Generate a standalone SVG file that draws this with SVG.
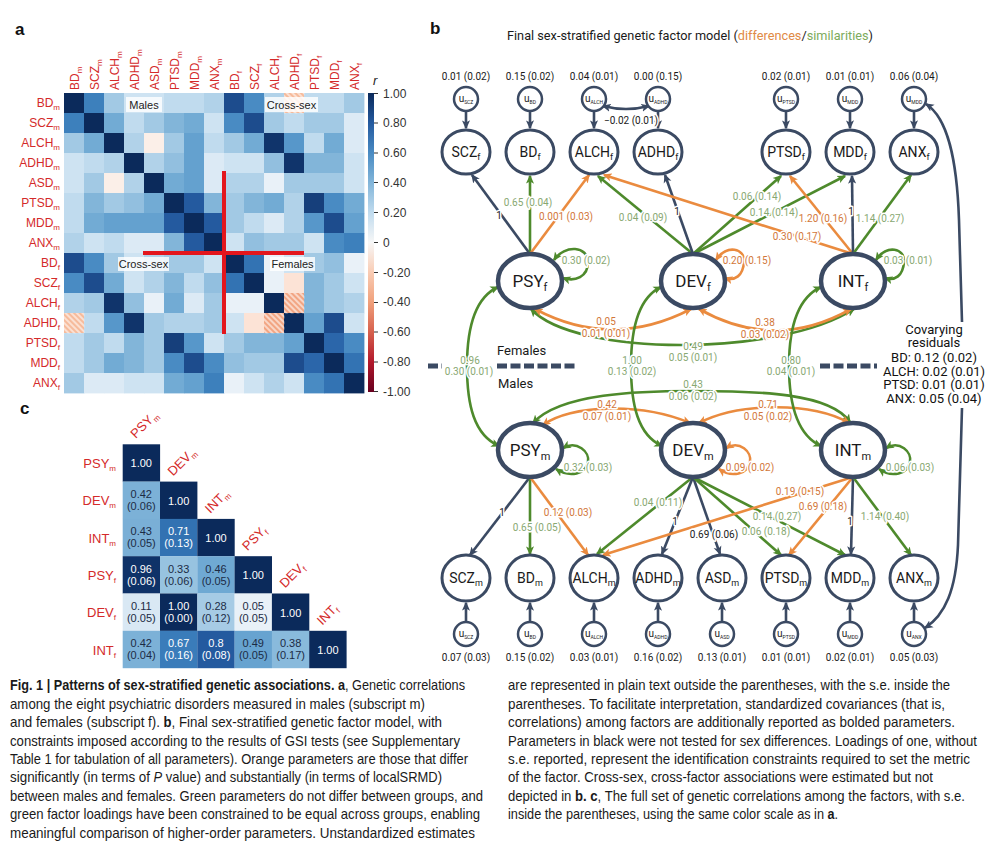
<svg xmlns="http://www.w3.org/2000/svg" width="1000" height="850" viewBox="0 0 1000 850">
<defs>
<style>
.sa{font-family:"Liberation Sans",Arial,sans-serif}
.ro{font-family:Roboto,"Liberation Sans",Arial,sans-serif}
.hm rect{width:20.4px;height:20.4px}
.p100{fill:#0b2a5b}.p95{fill:#10346b}.p90{fill:#163f7b}.p85{fill:#1d4c8d}.p80{fill:#245a9f}.p75{fill:#2b66aa}.p70{fill:#3373b3}.p65{fill:#3d80bc}.p60{fill:#498bc3}.p55{fill:#5797ca}.p50{fill:#64a1cf}.p45{fill:#72abd4}.p40{fill:#82b5d9}.p35{fill:#92bfdf}.p30{fill:#a2c9e4}.p25{fill:#b1d2e9}.p20{fill:#c0dbee}.p15{fill:#cee3f2}.p10{fill:#dceaf5}.p05{fill:#e9f1f8}.n05{fill:#fbefe8}.n10{fill:#fce3d6}.n30{fill:#f6bb9c}.n40{fill:#f2a583}
.lab{fill:#d42a2a;font-size:12px}
.s8{font-size:8px}
.box{fill:#fff;fill-opacity:.82}
.bt{font-size:11px;fill:#222;text-anchor:middle}
.cb{font-size:12px;fill:#333}
.tick{stroke:#333;stroke-width:1}
.ind{fill:#fff;stroke:#3b4a63;stroke-width:3}
.fac{fill:#fff;stroke:#3b4a63;stroke-width:4.5}
.uc{fill:#fff;stroke:#3b4a63;stroke-width:2.5}
.nl{font-size:14px;fill:#1a1a1a;text-anchor:middle}
.fl{font-size:17px;fill:#1a1a1a;text-anchor:middle}
.s9{font-size:9px}
.s11{font-size:11px}
.ul{font-size:10px;fill:#1a1a1a;text-anchor:middle}
.s5{font-size:5px}
.v{font-size:10px;fill:#1a1a1a;text-anchor:middle}
.el{font-size:10px;text-anchor:middle;paint-order:stroke;stroke:#fff;stroke-width:3px;stroke-linejoin:round}
.g{fill:#88a872}.o{fill:#d2773a}.k{fill:#1a1a1a}
.ed,.eg,.eo{fill:none;stroke-width:2.6}
.ed{stroke:#3b4a63}.eg{stroke:#4e8a2c}.eo{stroke:#ea8b3f}
.dash{stroke:#3b4a63;stroke-width:5;stroke-dasharray:10 3.5}
.cr{font-size:13px;fill:#111;text-anchor:middle}
.cl{fill:#d42a2a;font-size:13px}
.ct{font-size:11px;fill:#1c2b45;text-anchor:middle}
.cw{fill:#fff}
.cap{font-family:"Liberation Sans Narrow","Liberation Sans",Arial,sans-serif;font-size:15px;fill:#1a1a1a}
.pl{font-family:"Liberation Sans",Arial,sans-serif;font-weight:bold;font-size:17px;fill:#111}
.b{font-weight:bold}
</style>
<pattern id="hatch" patternUnits="userSpaceOnUse" width="4" height="4" patternTransform="rotate(-45)"><line x1="1" y1="0" x2="1" y2="4" stroke="#fff" stroke-width="1.1"/></pattern>
<linearGradient id="cbg" x1="0" y1="0" x2="0" y2="1">
<stop offset="0" stop-color="#0b2a5b"/><stop offset=".1" stop-color="#245a9f"/><stop offset=".2" stop-color="#498bc3"/><stop offset=".3" stop-color="#82b5d9"/><stop offset=".4" stop-color="#c0dbee"/><stop offset=".5" stop-color="#f7f7f7"/><stop offset=".6" stop-color="#f9ccb4"/><stop offset=".7" stop-color="#f0a07b"/><stop offset=".8" stop-color="#d6604d"/><stop offset=".9" stop-color="#b2182b"/><stop offset="1" stop-color="#67001f"/>
</linearGradient>
<marker id="md" viewBox="0 0 10 10" refX="8.5" refY="5" markerWidth="9" markerHeight="9" markerUnits="userSpaceOnUse" orient="auto-start-reverse"><path d="M0,0.5L10,5L0,9.5L2.5,5z" fill="#3b4a63"/></marker>
<marker id="mg" viewBox="0 0 10 10" refX="8.5" refY="5" markerWidth="9" markerHeight="9" markerUnits="userSpaceOnUse" orient="auto-start-reverse"><path d="M0,0.5L10,5L0,9.5L2.5,5z" fill="#4e8a2c"/></marker>
<marker id="mo" viewBox="0 0 10 10" refX="8.5" refY="5" markerWidth="9" markerHeight="9" markerUnits="userSpaceOnUse" orient="auto-start-reverse"><path d="M0,0.5L10,5L0,9.5L2.5,5z" fill="#ea8b3f"/></marker>
</defs>
<rect width="1000" height="850" fill="#fff"/>

<!-- PANEL A -->
<g id="panel-a" class="sa">
<text x="15" y="35" class="pl">a</text>
<g class="hm">
<g transform="translate(0,93)"><rect x="64" class="p100"/><rect x="84" class="p65"/><rect x="104" class="p30"/><rect x="124" class="p15"/><rect x="144" class="p15"/><rect x="164" class="p20"/><rect x="184" class="p20"/><rect x="204" class="p25"/><rect x="224" class="p85"/><rect x="244" class="p60"/><rect x="264" class="p25"/><rect x="284" class="n30"/><rect x="304" class="p20"/><rect x="324" class="p20"/><rect x="344" class="p30"/></g>
<g transform="translate(0,113)"><rect x="64" class="p65"/><rect x="84" class="p100"/><rect x="104" class="p45"/><rect x="124" class="p20"/><rect x="144" class="p30"/><rect x="164" class="p40"/><rect x="184" class="p45"/><rect x="204" class="p15"/><rect x="224" class="p60"/><rect x="244" class="p85"/><rect x="264" class="p30"/><rect x="284" class="p20"/><rect x="304" class="p30"/><rect x="324" class="p30"/><rect x="344" class="p10"/></g>
<g transform="translate(0,133)"><rect x="64" class="p30"/><rect x="84" class="p45"/><rect x="104" class="p100"/><rect x="124" class="p25"/><rect x="144" class="n05"/><rect x="164" class="p30"/><rect x="184" class="p50"/><rect x="204" class="p20"/><rect x="224" class="p30"/><rect x="244" class="p45"/><rect x="264" class="p95"/><rect x="284" class="p55"/><rect x="304" class="p20"/><rect x="324" class="p45"/><rect x="344" class="p10"/></g>
<g transform="translate(0,153)"><rect x="64" class="p15"/><rect x="84" class="p20"/><rect x="104" class="p25"/><rect x="124" class="p100"/><rect x="144" class="p25"/><rect x="164" class="p35"/><rect x="184" class="p50"/><rect x="204" class="p10"/><rect x="224" class="p15"/><rect x="244" class="p15"/><rect x="264" class="p35"/><rect x="284" class="p95"/><rect x="304" class="p40"/><rect x="324" class="p40"/><rect x="344" class="p15"/></g>
<g transform="translate(0,173)"><rect x="64" class="p15"/><rect x="84" class="p30"/><rect x="104" class="n05"/><rect x="124" class="p25"/><rect x="144" class="p100"/><rect x="164" class="p45"/><rect x="184" class="p50"/><rect x="204" class="p10"/><rect x="224" class="p25"/><rect x="244" class="p25"/><rect x="264" class="p05"/><rect x="284" class="p30"/><rect x="304" class="p30"/><rect x="324" class="p30"/><rect x="344" class="p15"/></g>
<g transform="translate(0,193)"><rect x="64" class="p20"/><rect x="84" class="p40"/><rect x="104" class="p30"/><rect x="124" class="p35"/><rect x="144" class="p45"/><rect x="164" class="p100"/><rect x="184" class="p80"/><rect x="204" class="p40"/><rect x="224" class="p30"/><rect x="244" class="p40"/><rect x="264" class="p45"/><rect x="284" class="p25"/><rect x="304" class="p90"/><rect x="324" class="p60"/><rect x="344" class="p45"/></g>
<g transform="translate(0,213)"><rect x="64" class="p20"/><rect x="84" class="p45"/><rect x="104" class="p50"/><rect x="124" class="p50"/><rect x="144" class="p50"/><rect x="164" class="p80"/><rect x="184" class="p100"/><rect x="204" class="p80"/><rect x="224" class="p30"/><rect x="244" class="p20"/><rect x="264" class="p10"/><rect x="284" class="p25"/><rect x="304" class="p55"/><rect x="324" class="p85"/><rect x="344" class="p50"/></g>
<g transform="translate(0,233)"><rect x="64" class="p25"/><rect x="84" class="p15"/><rect x="104" class="p20"/><rect x="124" class="p10"/><rect x="144" class="p10"/><rect x="164" class="p40"/><rect x="184" class="p80"/><rect x="204" class="p100"/><rect x="224" class="p15"/><rect x="244" class="p35"/><rect x="264" class="p30"/><rect x="284" class="p30"/><rect x="304" class="p15"/><rect x="324" class="p60"/><rect x="344" class="p65"/></g>
<g transform="translate(0,253)"><rect x="64" class="p85"/><rect x="84" class="p60"/><rect x="104" class="p30"/><rect x="124" class="p15"/><rect x="144" class="p25"/><rect x="164" class="p30"/><rect x="184" class="p30"/><rect x="204" class="p15"/><rect x="224" class="p100"/><rect x="244" class="p70"/><rect x="264" class="p05"/><rect x="284" class="p15"/><rect x="304" class="p30"/><rect x="324" class="p35"/><rect x="344" class="p05"/></g>
<g transform="translate(0,273)"><rect x="64" class="p60"/><rect x="84" class="p85"/><rect x="104" class="p45"/><rect x="124" class="p15"/><rect x="144" class="p25"/><rect x="164" class="p40"/><rect x="184" class="p20"/><rect x="204" class="p35"/><rect x="224" class="p70"/><rect x="244" class="p100"/><rect x="264" class="p05"/><rect x="284" class="n10"/><rect x="304" class="p40"/><rect x="324" class="p30"/><rect x="344" class="p15"/></g>
<g transform="translate(0,293)"><rect x="64" class="p25"/><rect x="84" class="p30"/><rect x="104" class="p95"/><rect x="124" class="p35"/><rect x="144" class="p05"/><rect x="164" class="p45"/><rect x="184" class="p10"/><rect x="204" class="p30"/><rect x="224" class="p05"/><rect x="244" class="p05"/><rect x="264" class="p100"/><rect x="284" class="n40"/><rect x="304" class="p40"/><rect x="324" class="p30"/><rect x="344" class="p25"/></g>
<g transform="translate(0,313)"><rect x="64" class="n30"/><rect x="84" class="p20"/><rect x="104" class="p55"/><rect x="124" class="p95"/><rect x="144" class="p30"/><rect x="164" class="p25"/><rect x="184" class="p25"/><rect x="204" class="p30"/><rect x="224" class="p15"/><rect x="244" class="n10"/><rect x="264" class="n40"/><rect x="284" class="p100"/><rect x="304" class="p50"/><rect x="324" class="p85"/><rect x="344" class="p15"/></g>
<g transform="translate(0,333)"><rect x="64" class="p20"/><rect x="84" class="p30"/><rect x="104" class="p20"/><rect x="124" class="p40"/><rect x="144" class="p30"/><rect x="164" class="p90"/><rect x="184" class="p55"/><rect x="204" class="p15"/><rect x="224" class="p30"/><rect x="244" class="p40"/><rect x="264" class="p40"/><rect x="284" class="p50"/><rect x="304" class="p100"/><rect x="324" class="p75"/><rect x="344" class="p60"/></g>
<g transform="translate(0,353)"><rect x="64" class="p20"/><rect x="84" class="p30"/><rect x="104" class="p45"/><rect x="124" class="p40"/><rect x="144" class="p30"/><rect x="164" class="p60"/><rect x="184" class="p85"/><rect x="204" class="p60"/><rect x="224" class="p35"/><rect x="244" class="p30"/><rect x="264" class="p30"/><rect x="284" class="p85"/><rect x="304" class="p75"/><rect x="324" class="p100"/><rect x="344" class="p70"/></g>
<g transform="translate(0,373)"><rect x="64" class="p30"/><rect x="84" class="p10"/><rect x="104" class="p10"/><rect x="124" class="p15"/><rect x="144" class="p15"/><rect x="164" class="p45"/><rect x="184" class="p50"/><rect x="204" class="p65"/><rect x="224" class="p05"/><rect x="244" class="p15"/><rect x="264" class="p25"/><rect x="284" class="p15"/><rect x="304" class="p60"/><rect x="324" class="p70"/><rect x="344" class="p100"/></g>
<rect x="284" y="93" fill="url(#hatch)"/><rect x="64" y="313" fill="url(#hatch)"/><rect x="284" y="293" fill="url(#hatch)"/><rect x="264" y="313" fill="url(#hatch)"/>
</g>
<line x1="224" y1="171" x2="224" y2="334" stroke="#e3161d" stroke-width="4"/>
<line x1="143" y1="253" x2="304" y2="253" stroke="#e3161d" stroke-width="4"/>
<rect x="126" y="97" width="36" height="15" class="box"/><text x="144" y="108.5" class="bt">Males</text>
<rect x="265" y="97" width="53" height="15" class="box"/><text x="291.5" y="108.5" class="bt">Cross-sex</text>
<rect x="118" y="257" width="51" height="14" class="box"/><text x="143.5" y="268" class="bt">Cross-sex</text>
<rect x="270" y="257" width="45" height="14" class="box"/><text x="292.5" y="268" class="bt">Females</text>
<g class="lab" text-anchor="start">
<text transform="translate(78.5,90) rotate(-90)">BD<tspan class="s8" dy="3">m</tspan></text>
<text transform="translate(98.5,90) rotate(-90)">SCZ<tspan class="s8" dy="3">m</tspan></text>
<text transform="translate(118.5,90) rotate(-90)">ALCH<tspan class="s8" dy="3">m</tspan></text>
<text transform="translate(138.5,90) rotate(-90)">ADHD<tspan class="s8" dy="3">m</tspan></text>
<text transform="translate(158.5,90) rotate(-90)">ASD<tspan class="s8" dy="3">m</tspan></text>
<text transform="translate(178.5,90) rotate(-90)">PTSD<tspan class="s8" dy="3">m</tspan></text>
<text transform="translate(198.5,90) rotate(-90)">MDD<tspan class="s8" dy="3">m</tspan></text>
<text transform="translate(218.5,90) rotate(-90)">ANX<tspan class="s8" dy="3">m</tspan></text>
<text transform="translate(238.5,90) rotate(-90)">BD<tspan class="s8" dy="3">f</tspan></text>
<text transform="translate(258.5,90) rotate(-90)">SCZ<tspan class="s8" dy="3">f</tspan></text>
<text transform="translate(278.5,90) rotate(-90)">ALCH<tspan class="s8" dy="3">f</tspan></text>
<text transform="translate(298.5,90) rotate(-90)">ADHD<tspan class="s8" dy="3">f</tspan></text>
<text transform="translate(318.5,90) rotate(-90)">PTSD<tspan class="s8" dy="3">f</tspan></text>
<text transform="translate(338.5,90) rotate(-90)">MDD<tspan class="s8" dy="3">f</tspan></text>
<text transform="translate(358.5,90) rotate(-90)">ANX<tspan class="s8" dy="3">f</tspan></text>
</g>
<g class="lab" text-anchor="end">
<text x="60" y="107">BD<tspan class="s8" dy="3">m</tspan></text>
<text x="60" y="127">SCZ<tspan class="s8" dy="3">m</tspan></text>
<text x="60" y="147">ALCH<tspan class="s8" dy="3">m</tspan></text>
<text x="60" y="167">ADHD<tspan class="s8" dy="3">m</tspan></text>
<text x="60" y="187">ASD<tspan class="s8" dy="3">m</tspan></text>
<text x="60" y="207">PTSD<tspan class="s8" dy="3">m</tspan></text>
<text x="60" y="227">MDD<tspan class="s8" dy="3">m</tspan></text>
<text x="60" y="247">ANX<tspan class="s8" dy="3">m</tspan></text>
<text x="60" y="267">BD<tspan class="s8" dy="3">f</tspan></text>
<text x="60" y="287">SCZ<tspan class="s8" dy="3">f</tspan></text>
<text x="60" y="307">ALCH<tspan class="s8" dy="3">f</tspan></text>
<text x="60" y="327">ADHD<tspan class="s8" dy="3">f</tspan></text>
<text x="60" y="347">PTSD<tspan class="s8" dy="3">f</tspan></text>
<text x="60" y="367">MDD<tspan class="s8" dy="3">f</tspan></text>
<text x="60" y="387">ANX<tspan class="s8" dy="3">f</tspan></text>
</g>
<rect x="368" y="93" width="6" height="299" fill="url(#cbg)"/>
<text x="373" y="85" font-size="13" font-style="italic" fill="#222">r</text>
<g class="tick"><line x1="374" y1="93.5" x2="378" y2="93.5"/><line x1="374" y1="123" x2="378" y2="123"/><line x1="374" y1="153" x2="378" y2="153"/><line x1="374" y1="182.5" x2="378" y2="182.5"/><line x1="374" y1="212.5" x2="378" y2="212.5"/><line x1="374" y1="242.5" x2="378" y2="242.5"/><line x1="374" y1="272.5" x2="378" y2="272.5"/><line x1="374" y1="302.5" x2="378" y2="302.5"/><line x1="374" y1="332" x2="378" y2="332"/><line x1="374" y1="362" x2="378" y2="362"/><line x1="374" y1="391.5" x2="378" y2="391.5"/></g>
<g class="cb"><text x="383" y="98">1.00</text><text x="383" y="127">0.80</text><text x="383" y="157">0.60</text><text x="383" y="187">0.40</text><text x="383" y="217">0.20</text><text x="383" y="247">0</text><text x="383" y="277">-0.20</text><text x="383" y="306">-0.40</text><text x="383" y="336">-0.60</text><text x="383" y="366">-0.80</text><text x="383" y="396">-1.00</text></g>
</g>

<!-- PANEL C -->
<g id="panel-c" class="sa">
<text x="20" y="414" class="pl">c</text>
<g class="cl" text-anchor="end">
<text x="116" y="468">PSY<tspan class="s8" dy="3">m</tspan></text>
<text x="116" y="505">DEV<tspan class="s8" dy="3">m</tspan></text>
<text x="116" y="542.5">INT<tspan class="s8" dy="3">m</tspan></text>
<text x="116" y="580">PSY<tspan class="s8" dy="3">f</tspan></text>
<text x="116" y="617">DEV<tspan class="s8" dy="3">f</tspan></text>
<text x="116" y="654.5">INT<tspan class="s8" dy="3">f</tspan></text>
</g>
<g class="cl" font-size="12">
<text transform="translate(135.7,439) rotate(-45)">PSY<tspan class="s8" dy="3">m</tspan></text>
<text transform="translate(173,476.6) rotate(-45)">DEV<tspan class="s8" dy="3">m</tspan></text>
<text transform="translate(210.3,513.9) rotate(-45)">INT<tspan class="s8" dy="3">m</tspan></text>
<text transform="translate(247.6,551.2) rotate(-45)">PSY<tspan class="s8" dy="3">f</tspan></text>
<text transform="translate(284.9,588.5) rotate(-45)">DEV<tspan class="s8" dy="3">f</tspan></text>
<text transform="translate(322.2,625.8) rotate(-45)">INT<tspan class="s8" dy="3">f</tspan></text>
</g>
<g>
<rect x="122.7" y="444.3" width="37.4" height="37.4" fill="#0b2a5b"/>
<rect x="122.7" y="481.6" width="37.4" height="37.4" fill="#7cb1d7"/><rect x="160" y="481.6" width="37.4" height="37.4" fill="#0b2a5b"/>
<rect x="122.7" y="518.9" width="37.4" height="37.4" fill="#7aafd6"/><rect x="160" y="518.9" width="37.4" height="37.4" fill="#3272b2"/><rect x="197.3" y="518.9" width="37.4" height="37.4" fill="#0b2a5b"/>
<rect x="122.7" y="556.2" width="37.4" height="37.4" fill="#0f3268"/><rect x="160" y="556.2" width="37.4" height="37.4" fill="#97c3e0"/><rect x="197.3" y="556.2" width="37.4" height="37.4" fill="#6fa9d3"/><rect x="234.6" y="556.2" width="37.4" height="37.4" fill="#0b2a5b"/>
<rect x="122.7" y="593.5" width="37.4" height="37.4" fill="#d9e8f4"/><rect x="160" y="593.5" width="37.4" height="37.4" fill="#0b2a5b"/><rect x="197.3" y="593.5" width="37.4" height="37.4" fill="#a6cbe5"/><rect x="234.6" y="593.5" width="37.4" height="37.4" fill="#e9f1f8"/><rect x="271.9" y="593.5" width="37.4" height="37.4" fill="#0b2a5b"/>
<rect x="122.7" y="630.8" width="37.4" height="37.4" fill="#7cb1d7"/><rect x="160" y="630.8" width="37.4" height="37.4" fill="#3a7cba"/><rect x="197.3" y="630.8" width="37.4" height="37.4" fill="#245a9f"/><rect x="234.6" y="630.8" width="37.4" height="37.4" fill="#67a3d0"/><rect x="271.9" y="630.8" width="37.4" height="37.4" fill="#89badc"/><rect x="309.2" y="630.8" width="37.4" height="37.4" fill="#0b2a5b"/>
</g>
<g class="ct">
<text x="141.3" y="467" class="cw">1.00</text>
<text x="141.3" y="498">0.42</text><text x="141.3" y="510">(0.06)</text><text x="178.6" y="504.5" class="cw">1.00</text>
<text x="141.3" y="535">0.43</text><text x="141.3" y="547">(0.05)</text><text x="178.6" y="535" class="cw">0.71</text><text x="178.6" y="547" class="cw">(0.13)</text><text x="216" y="541.5" class="cw">1.00</text>
<text x="141.3" y="572.5" class="cw">0.96</text><text x="141.3" y="584.5" class="cw">(0.06)</text><text x="178.6" y="572.5">0.33</text><text x="178.6" y="584.5">(0.06)</text><text x="216" y="572.5">0.46</text><text x="216" y="584.5">(0.05)</text><text x="253.3" y="579" class="cw">1.00</text>
<text x="141.3" y="610">0.11</text><text x="141.3" y="622">(0.05)</text><text x="178.6" y="610" class="cw">1.00</text><text x="178.6" y="622" class="cw">(0.00)</text><text x="216" y="610">0.28</text><text x="216" y="622">(0.12)</text><text x="253.3" y="610">0.05</text><text x="253.3" y="622">(0.05)</text><text x="290.6" y="616.5" class="cw">1.00</text>
<text x="141.3" y="647">0.42</text><text x="141.3" y="659">(0.04)</text><text x="178.6" y="647" class="cw">0.67</text><text x="178.6" y="659" class="cw">(0.16)</text><text x="216" y="647" class="cw">0.8</text><text x="216" y="659" class="cw">(0.08)</text><text x="253.3" y="647">0.49</text><text x="253.3" y="659">(0.05)</text><text x="290.6" y="647">0.38</text><text x="290.6" y="659">(0.17)</text><text x="327.9" y="653.5" class="cw">1.00</text>
</g>
</g>

<!-- PANEL B -->
<g id="panel-b" class="ro">
<text x="430" y="34" class="pl">b</text>
<text x="507" y="40" font-size="13" fill="#1a1a1a" textLength="366" lengthAdjust="spacingAndGlyphs">Final sex-stratified genetic factor model (<tspan fill="#e08a45">differences</tspan>/<tspan fill="#7dab5c">similarities</tspan>)</text>

<g id="connectors">
<path class="ed" d="M466,112V128" marker-end="url(#md)"/><path class="ed" d="M530,112V128" marker-end="url(#md)"/><path class="ed" d="M594,112V128" marker-end="url(#md)"/><path class="ed" d="M658,112V128" marker-end="url(#md)"/><path class="ed" d="M786,112V128" marker-end="url(#md)"/><path class="ed" d="M850,112V128" marker-end="url(#md)"/><path class="ed" d="M914,112V128" marker-end="url(#md)"/>
<path class="ed" d="M603,106Q626,112 649,106" marker-start="url(#md)" marker-end="url(#md)"/>
<path class="ed" d="M466,621V603" marker-end="url(#md)"/><path class="ed" d="M530,621V603" marker-end="url(#md)"/><path class="ed" d="M594,621V603" marker-end="url(#md)"/><path class="ed" d="M658,621V603" marker-end="url(#md)"/><path class="ed" d="M722,621V603" marker-end="url(#md)"/><path class="ed" d="M786,621V603" marker-end="url(#md)"/><path class="ed" d="M850,621V603" marker-end="url(#md)"/><path class="ed" d="M914,621V603" marker-end="url(#md)"/>
<path class="ed" d="M530,254L472,175" marker-end="url(#md)"/>
<path class="eg" d="M530,254L530,176" marker-end="url(#mg)"/>
<path class="eo" d="M530,254L589,175" marker-end="url(#mo)"/>
<path class="eg" d="M693,254L598,176" marker-end="url(#mg)"/>
<path class="ed" d="M693,254L665,175" marker-end="url(#md)"/>
<path class="eg" d="M693,254L781,176" marker-end="url(#mg)"/>
<path class="eg" d="M693,254L845,176" marker-end="url(#mg)"/>
<path class="eo" d="M853,254L604,175" marker-end="url(#mo)"/>
<path class="eo" d="M853,254L790,176" marker-end="url(#mo)"/>
<path class="ed" d="M853,254L852,176" marker-end="url(#md)"/>
<path class="eg" d="M853,254L911,175" marker-end="url(#mg)"/>
<path class="ed" d="M530,477L470,555" marker-end="url(#md)"/>
<path class="eg" d="M530,477L530,554" marker-end="url(#mg)"/>
<path class="eo" d="M530,477L588,555" marker-end="url(#mo)"/>
<path class="eg" d="M693,477L597,554" marker-end="url(#mg)"/>
<path class="ed" d="M693,477L662,554" marker-end="url(#md)"/>
<path class="ed" d="M693,477L720,554" marker-end="url(#md)"/>
<path class="eg" d="M693,477L781,555" marker-end="url(#mg)"/>
<path class="eg" d="M693,477L845,555" marker-end="url(#mg)"/>
<path class="eo" d="M853,477L603,555" marker-end="url(#mo)"/>
<path class="eo" d="M853,477L789,555" marker-end="url(#mo)"/>
<path class="ed" d="M853,477L851,554" marker-end="url(#md)"/>
<path class="eg" d="M853,477L911,555" marker-end="url(#mg)"/>
<path class="eg" d="M554,260C565,244 588,246 588,262C588,277 575,282 563,278" marker-start="url(#mg)" marker-end="url(#mg)"/>
<path class="eo" d="M716,260C727,244 745,248 744,262C743,276 735,281 725,278" marker-start="url(#mo)" marker-end="url(#mo)"/>
<path class="eg" d="M876,260C887,244 905,248 904,262C903,276 895,281 885,278" marker-start="url(#mg)" marker-end="url(#mg)"/>
<path class="eg" d="M563,448C577,440 590,452 588,462C586,474 570,478 556,469" marker-start="url(#mg)" marker-end="url(#mg)"/>
<path class="eo" d="M726,448C740,440 752,452 750,462C748,474 732,478 719,469" marker-start="url(#mo)" marker-end="url(#mo)"/>
<path class="eg" d="M886,448C900,440 912,452 910,462C908,474 892,478 879,469" marker-start="url(#mg)" marker-end="url(#mg)"/>
<path class="eg" d="M531,309C575,357 780,357 854,309" marker-start="url(#mg)" marker-end="url(#mg)"/>
<path class="eo" d="M535,309Q612,350 691,309" marker-start="url(#mo)" marker-end="url(#mo)"/>
<path class="eo" d="M699,309Q775,352 851,309" marker-start="url(#mo)" marker-end="url(#mo)"/>
<path class="eg" d="M533,423C560,393 640,391 693,391C760,391 830,393 850,422" marker-start="url(#mg)" marker-end="url(#mg)"/>
<path class="eo" d="M543,425C570,405 640,402 690,423" marker-start="url(#mo)" marker-end="url(#mo)"/>
<path class="eo" d="M699,423C740,402 815,402 849,423" marker-start="url(#mo)" marker-end="url(#mo)"/>
<path class="eg" d="M498,287C474,298 467,330 467,366C467,405 474,435 499,446" marker-start="url(#mg)" marker-end="url(#mg)"/>
<path class="eg" d="M661,287C638,298 631,330 631,366C631,405 638,435 662,446" marker-start="url(#mg)" marker-end="url(#mg)"/>
<path class="eg" d="M821,287C797,298 789,330 789,366C789,405 797,435 821,446" marker-start="url(#mg)" marker-end="url(#mg)"/>
<path class="ed" d="M926,104C948,118 957,160 959,220L962,322" marker-start="url(#md)"/>
<path class="ed" d="M962,408L958,545C956,590 945,615 925,628" marker-end="url(#md)"/>
<line x1="428" y1="366" x2="442" y2="366" class="dash"/>
<line x1="497" y1="366" x2="578" y2="366" class="dash"/>
<line x1="820" y1="366" x2="877" y2="366" class="dash"/>
</g>

<g id="edge-labels">
<text x="499" y="219" class="el k">1</text>
<text x="528" y="206" class="el g">0.65 (0.04)</text>
<text x="566" y="220" class="el o">0.001 (0.03)</text>
<text x="643" y="221" class="el g">0.04 (0.09)</text>
<text x="677" y="215" class="el k">1</text>
<text x="757" y="200" class="el g">0.06 (0.14)</text>
<text x="774" y="216" class="el g">0.14 (0.14)</text>
<text x="797" y="240" class="el o">0.30 (0.17)</text>
<text x="823" y="222" class="el o">1.20 (0.16)</text>
<text x="851" y="215" class="el k">1</text>
<text x="880" y="222" class="el g">1.14 (0.27)</text>
<text x="586" y="264" class="el g">0.30 (0.02)</text>
<text x="747" y="264" class="el o">0.20 (0.15)</text>
<text x="908" y="264" class="el g">0.03 (0.01)</text>
<text x="631" y="124" class="el k">−0.02 (0.01)</text>
<text x="606" y="325" class="el o">0.05</text><text x="606" y="337" class="el o">0.01 (0.01)</text>
<text x="765" y="326" class="el o">0.38</text><text x="765" y="338" class="el o">0.03 (0.02)</text>
<text x="693" y="350" class="el g">0.49</text><text x="693" y="361" class="el g">0.05 (0.01)</text>
<text x="470" y="364" class="el g">0.96</text><text x="469" y="375" class="el g">0.30 (0.01)</text>
<text x="632" y="364" class="el g">1.00</text><text x="632" y="375" class="el g">0.13 (0.02)</text>
<text x="791" y="364" class="el g">0.80</text><text x="791" y="375" class="el g">0.04 (0.01)</text>
<text x="693" y="388" class="el g">0.43</text><text x="693" y="400" class="el g">0.06 (0.02)</text>
<text x="607" y="408" class="el o">0.42</text><text x="607" y="420" class="el o">0.07 (0.01)</text>
<text x="768" y="408" class="el o">0.71</text><text x="768" y="420" class="el o">0.05 (0.02)</text>
<text x="588" y="471" class="el g">0.32 (0.03)</text>
<text x="750" y="471" class="el o">0.09 (0.02)</text>
<text x="910" y="471" class="el g">0.06 (0.03)</text>
<text x="502" y="516" class="el k">1</text>
<text x="537" y="531" class="el g">0.65 (0.05)</text>
<text x="568" y="516" class="el o">0.12 (0.03)</text>
<text x="658" y="506" class="el g">0.04 (0.11)</text>
<text x="675" y="525" class="el k">1</text>
<text x="714" y="538" class="el k">0.69 (0.06)</text>
<text x="766" y="535" class="el g">0.06 (0.18)</text>
<text x="777" y="520" class="el g">0.14 (0.27)</text>
<text x="800" y="495" class="el o">0.19 (0.15)</text>
<text x="823" y="510" class="el o">0.69 (0.18)</text>
<text x="850" y="525" class="el k">1</text>
<text x="885" y="520" class="el g">1.14 (0.40)</text>
</g>

<g id="sex-labels" font-size="13" fill="#1a1a1a">
<text x="497" y="355">Females</text>
<text x="498" y="388">Males</text>
</g>
<g id="covarying-residuals" class="cr">
<text x="934" y="334">Covarying</text>
<text x="934" y="347">residuals</text>
<text x="934" y="362">BD: 0.12 (0.02)</text>
<text x="934" y="376">ALCH: 0.02 (0.01)</text>
<text x="934" y="389">PTSD: 0.01 (0.01)</text>
<text x="934" y="403">ANX: 0.05 (0.04)</text>
</g>

<g id="u-scz-f"><text x="466" y="80" class="v">0.01 (0.02)</text><circle cx="466" cy="99" r="12" class="uc"/><text x="466" y="102" class="ul">u<tspan class="s5" dy="2">SCZ</tspan></text></g>
<g id="u-bd-f"><text x="530" y="80" class="v">0.15 (0.02)</text><circle cx="530" cy="99" r="12" class="uc"/><text x="530" y="102" class="ul">u<tspan class="s5" dy="2">BD</tspan></text></g>
<g id="u-alch-f"><text x="594" y="80" class="v">0.04 (0.01)</text><circle cx="594" cy="99" r="12" class="uc"/><text x="594" y="102" class="ul">u<tspan class="s5" dy="2">ALCH</tspan></text></g>
<g id="u-adhd-f"><text x="658" y="80" class="v">0.00 (0.15)</text><circle cx="658" cy="99" r="12" class="uc"/><text x="658" y="102" class="ul">u<tspan class="s5" dy="2">ADHD</tspan></text></g>
<g id="u-ptsd-f"><text x="786" y="80" class="v">0.02 (0.01)</text><circle cx="786" cy="99" r="12" class="uc"/><text x="786" y="102" class="ul">u<tspan class="s5" dy="2">PTSD</tspan></text></g>
<g id="u-mdd-f"><text x="850" y="80" class="v">0.01 (0.01)</text><circle cx="850" cy="99" r="12" class="uc"/><text x="850" y="102" class="ul">u<tspan class="s5" dy="2">MDD</tspan></text></g>
<g id="u-anx-f"><text x="914" y="80" class="v">0.06 (0.04)</text><circle cx="914" cy="99" r="12" class="uc"/><text x="914" y="102" class="ul">u<tspan class="s5" dy="2">MDD</tspan></text></g>
<g id="scz-f"><ellipse cx="466" cy="152" rx="24" ry="22" class="ind"/><text x="466" y="157" class="nl">SCZ<tspan class="s9" dy="3">f</tspan></text></g>
<g id="bd-f"><ellipse cx="530" cy="152" rx="24" ry="22" class="ind"/><text x="530" y="157" class="nl">BD<tspan class="s9" dy="3">f</tspan></text></g>
<g id="alch-f"><ellipse cx="594" cy="152" rx="24" ry="22" class="ind"/><text x="594" y="157" class="nl">ALCH<tspan class="s9" dy="3">f</tspan></text></g>
<g id="adhd-f"><ellipse cx="658" cy="152" rx="24" ry="22" class="ind"/><text x="658" y="157" class="nl">ADHD<tspan class="s9" dy="3">f</tspan></text></g>
<g id="ptsd-f"><ellipse cx="786" cy="152" rx="24" ry="22" class="ind"/><text x="786" y="157" class="nl">PTSD<tspan class="s9" dy="3">f</tspan></text></g>
<g id="mdd-f"><ellipse cx="850" cy="152" rx="24" ry="22" class="ind"/><text x="850" y="157" class="nl">MDD<tspan class="s9" dy="3">f</tspan></text></g>
<g id="anx-f"><ellipse cx="914" cy="152" rx="24" ry="22" class="ind"/><text x="914" y="157" class="nl">ANX<tspan class="s9" dy="3">f</tspan></text></g>
<g id="psy-f"><ellipse cx="530" cy="281" rx="32" ry="27" class="fac"/><text x="530" y="287" class="fl">PSY<tspan class="s11" dy="4">f</tspan></text></g>
<g id="dev-f"><ellipse cx="693" cy="281" rx="32" ry="27" class="fac"/><text x="693" y="287" class="fl">DEV<tspan class="s11" dy="4">f</tspan></text></g>
<g id="int-f"><ellipse cx="853" cy="281" rx="32" ry="27" class="fac"/><text x="853" y="287" class="fl">INT<tspan class="s11" dy="4">f</tspan></text></g>
<g id="psy-m"><ellipse cx="530" cy="450" rx="32" ry="27" class="fac"/><text x="530" y="456" class="fl">PSY<tspan class="s11" dy="4">m</tspan></text></g>
<g id="dev-m"><ellipse cx="693" cy="450" rx="32" ry="27" class="fac"/><text x="693" y="456" class="fl">DEV<tspan class="s11" dy="4">m</tspan></text></g>
<g id="int-m"><ellipse cx="853" cy="450" rx="32" ry="27" class="fac"/><text x="853" y="456" class="fl">INT<tspan class="s11" dy="4">m</tspan></text></g>
<g id="scz-m"><ellipse cx="466" cy="578" rx="24" ry="23" class="ind"/><text x="466" y="583" class="nl">SCZ<tspan class="s9" dy="3">m</tspan></text></g>
<g id="bd-m"><ellipse cx="530" cy="578" rx="24" ry="23" class="ind"/><text x="530" y="583" class="nl">BD<tspan class="s9" dy="3">m</tspan></text></g>
<g id="alch-m"><ellipse cx="594" cy="578" rx="24" ry="23" class="ind"/><text x="594" y="583" class="nl">ALCH<tspan class="s9" dy="3">m</tspan></text></g>
<g id="adhd-m"><ellipse cx="658" cy="578" rx="24" ry="23" class="ind"/><text x="658" y="583" class="nl">ADHD<tspan class="s9" dy="3">m</tspan></text></g>
<g id="asd-m"><ellipse cx="722" cy="578" rx="24" ry="23" class="ind"/><text x="722" y="583" class="nl">ASD<tspan class="s9" dy="3">m</tspan></text></g>
<g id="ptsd-m"><ellipse cx="786" cy="578" rx="24" ry="23" class="ind"/><text x="786" y="583" class="nl">PTSD<tspan class="s9" dy="3">m</tspan></text></g>
<g id="mdd-m"><ellipse cx="850" cy="578" rx="24" ry="23" class="ind"/><text x="850" y="583" class="nl">MDD<tspan class="s9" dy="3">m</tspan></text></g>
<g id="anx-m"><ellipse cx="914" cy="578" rx="24" ry="23" class="ind"/><text x="914" y="583" class="nl">ANX<tspan class="s9" dy="3">m</tspan></text></g>
<g id="u-scz-m"><circle cx="466" cy="634" r="12" class="uc"/><text x="466" y="637" class="ul">u<tspan class="s5" dy="2">SCZ</tspan></text><text x="466" y="661" class="v">0.07 (0.03)</text></g>
<g id="u-bd-m"><circle cx="530" cy="634" r="12" class="uc"/><text x="530" y="637" class="ul">u<tspan class="s5" dy="2">BD</tspan></text><text x="530" y="661" class="v">0.15 (0.02)</text></g>
<g id="u-alch-m"><circle cx="594" cy="634" r="12" class="uc"/><text x="594" y="637" class="ul">u<tspan class="s5" dy="2">ALCH</tspan></text><text x="594" y="661" class="v">0.03 (0.01)</text></g>
<g id="u-adhd-m"><circle cx="658" cy="634" r="12" class="uc"/><text x="658" y="637" class="ul">u<tspan class="s5" dy="2">ADHD</tspan></text><text x="658" y="661" class="v">0.16 (0.02)</text></g>
<g id="u-asd-m"><circle cx="722" cy="634" r="12" class="uc"/><text x="722" y="637" class="ul">u<tspan class="s5" dy="2">ASD</tspan></text><text x="722" y="661" class="v">0.13 (0.01)</text></g>
<g id="u-ptsd-m"><circle cx="786" cy="634" r="12" class="uc"/><text x="786" y="637" class="ul">u<tspan class="s5" dy="2">PTSD</tspan></text><text x="786" y="661" class="v">0.01 (0.01)</text></g>
<g id="u-mdd-m"><circle cx="850" cy="634" r="12" class="uc"/><text x="850" y="637" class="ul">u<tspan class="s5" dy="2">MDD</tspan></text><text x="850" y="661" class="v">0.02 (0.01)</text></g>
<g id="u-anx-m"><circle cx="914" cy="634" r="12" class="uc"/><text x="914" y="637" class="ul">u<tspan class="s5" dy="2">ANX</tspan></text><text x="914" y="661" class="v">0.05 (0.03)</text></g>
</g>

<g id="caption" class="cap">
<text x="10" y="690" class="b" textLength="335" lengthAdjust="spacingAndGlyphs">Fig. 1 | Patterns of sex-stratified genetic associations. a</text>
<text x="345" y="690" textLength="120" lengthAdjust="spacingAndGlyphs">, Genetic correlations</text>
<text x="10" y="709" textLength="415" lengthAdjust="spacingAndGlyphs">among the eight psychiatric disorders measured in males (subscript m)</text>
<text x="10" y="727" textLength="150" lengthAdjust="spacingAndGlyphs">and females (subscript f).</text>
<text x="163.5" y="727" class="b" textLength="8" lengthAdjust="spacingAndGlyphs">b</text>
<text x="171.5" y="727" textLength="270.5" lengthAdjust="spacingAndGlyphs">, Final sex-stratified genetic factor model, with</text>
<text x="10" y="746" textLength="450" lengthAdjust="spacingAndGlyphs">constraints imposed according to the results of GSI tests (see Supplementary</text>
<text x="10" y="764" textLength="458" lengthAdjust="spacingAndGlyphs">Table 1 for tabulation of all parameters). Orange parameters are those that differ</text>
<text x="10" y="782" textLength="140" lengthAdjust="spacingAndGlyphs">significantly (in terms of</text>
<text x="153.6" y="782" font-style="italic" textLength="8.6" lengthAdjust="spacingAndGlyphs">P</text>
<text x="165.8" y="782" textLength="276.2" lengthAdjust="spacingAndGlyphs">value) and substantially (in terms of localSRMD)</text>
<text x="10" y="801" textLength="473" lengthAdjust="spacingAndGlyphs">between males and females. Green parameters do not differ between groups, and</text>
<text x="10" y="819" textLength="470" lengthAdjust="spacingAndGlyphs">green factor loadings have been constrained to be equal across groups, enabling</text>
<text x="10" y="838" textLength="465" lengthAdjust="spacingAndGlyphs">meaningful comparison of higher-order parameters. Unstandardized estimates</text>
<text x="508" y="690" textLength="442" lengthAdjust="spacingAndGlyphs">are represented in plain text outside the parentheses, with the s.e. inside the</text>
<text x="508" y="709" textLength="437" lengthAdjust="spacingAndGlyphs">parentheses. To facilitate interpretation, standardized covariances (that is,</text>
<text x="508" y="727" textLength="447" lengthAdjust="spacingAndGlyphs">correlations) among factors are additionally reported as bolded parameters.</text>
<text x="508" y="746" textLength="469" lengthAdjust="spacingAndGlyphs">Parameters in black were not tested for sex differences. Loadings of one, without</text>
<text x="508" y="764" textLength="462" lengthAdjust="spacingAndGlyphs">s.e. reported, represent the identification constraints required to set the metric</text>
<text x="508" y="782" textLength="425" lengthAdjust="spacingAndGlyphs">of the factor. Cross-sex, cross-factor associations were estimated but not</text>
<text x="508" y="801" textLength="63.4" lengthAdjust="spacingAndGlyphs">depicted in</text>
<text x="575" y="801" class="b" textLength="22.6" lengthAdjust="spacingAndGlyphs">b. c</text>
<text x="597.6" y="801" textLength="367.4" lengthAdjust="spacingAndGlyphs">, The full set of genetic correlations among the factors, with s.e.</text>
<text x="508" y="819" textLength="316" lengthAdjust="spacingAndGlyphs">inside the parentheses, using the same color scale as in</text>
<text x="827.5" y="819" class="b" textLength="7" lengthAdjust="spacingAndGlyphs">a</text>
<text x="834.5" y="819" textLength="3.5" lengthAdjust="spacingAndGlyphs">.</text>
</g>
</svg>
